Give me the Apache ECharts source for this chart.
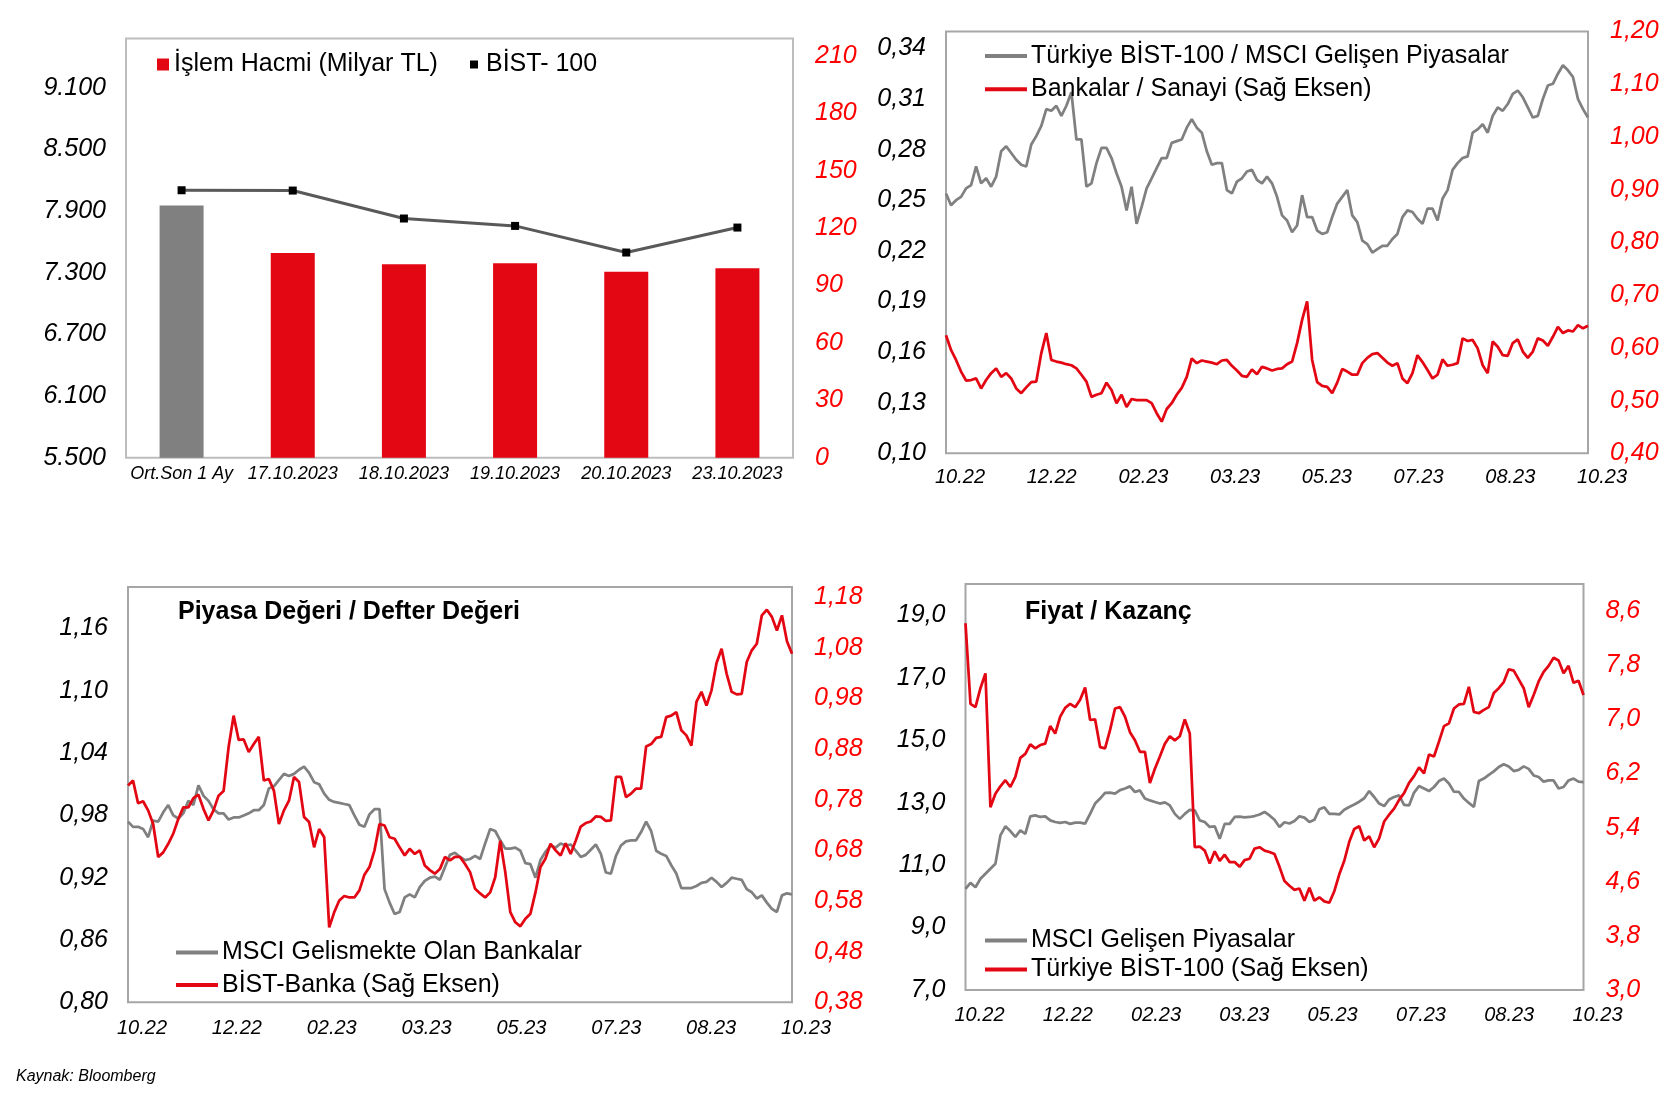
<!DOCTYPE html>
<html>
<head>
<meta charset="utf-8">
<script src="https://cdn.jsdelivr.net/npm/echarts@6/dist/echarts.min.js"></script>
<style>
  html, body { margin: 0; padding: 0; background: #fff; }
  #chart { width: 1675px; height: 1093px; }
</style>
</head>
<body>
<div id="chart"></div>
<script>
// --- data ---
const volCats = ['Ort.Son 1 Ay', '17.10.2023', '18.10.2023', '19.10.2023', '20.10.2023', '23.10.2023'];
const volume = [131.7, 107.0, 101.1, 101.6, 97.2, 99.0];
const bist100 = [8103, 8100, 7828, 7756, 7497, 7740];
const volLeftTicks = [5500, 6100, 6700, 7300, 7900, 8500, 9100];
const volRightTicks = [0, 30, 60, 90, 120, 150, 180, 210];

const dateLabels = ['10.22', '12.22', '02.23', '03.23', '05.23', '07.23', '08.23', '10.23'];

// Türkiye BİST-100 / MSCI Gelişen Piyasalar
const relBist = [0.254,0.247,0.250,0.252,0.257,0.259,0.270,0.260,0.263,0.258,
  0.264,0.279,0.282,0.278,0.274,0.271,0.270,0.283,0.288,0.294,
  0.304,0.303,0.306,0.300,0.306,0.314,0.286,0.286,0.258,0.260,
  0.272,0.281,0.281,0.275,0.266,0.258,0.244,0.258,0.236,0.246,
  0.257,0.263,0.269,0.275,0.275,0.284,0.285,0.286,0.293,0.298,
  0.293,0.290,0.279,0.271,0.272,0.272,0.256,0.254,0.261,0.263,
  0.267,0.268,0.262,0.260,0.264,0.260,0.252,0.241,0.238,0.231,
  0.235,0.253,0.240,0.240,0.232,0.230,0.231,0.240,0.248,0.252,
  0.256,0.241,0.237,0.226,0.224,0.219,0.221,0.223,0.223,0.227,
  0.230,0.240,0.244,0.243,0.239,0.236,0.245,0.245,0.238,0.251,
  0.256,0.268,0.272,0.275,0.276,0.290,0.292,0.295,0.290,0.300,
  0.305,0.303,0.307,0.313,0.315,0.311,0.305,0.299,0.300,0.310,
  0.318,0.319,0.325,0.330,0.327,0.323,0.310,0.304,0.299];
// Bankalar / Sanayi (Sağ Eksen)
const bankInd = [0.624,0.596,0.577,0.555,0.538,0.539,0.542,0.523,0.539,0.552,
  0.561,0.545,0.552,0.542,0.523,0.514,0.525,0.535,0.536,0.590,
  0.628,0.577,0.574,0.572,0.569,0.567,0.561,0.549,0.536,0.507,
  0.511,0.514,0.534,0.520,0.495,0.511,0.488,0.503,0.501,0.501,
  0.501,0.495,0.476,0.460,0.484,0.495,0.511,0.524,0.545,0.580,
  0.571,0.576,0.574,0.572,0.569,0.576,0.577,0.566,0.557,0.547,
  0.545,0.559,0.550,0.564,0.561,0.557,0.560,0.561,0.569,0.574,
  0.609,0.653,0.688,0.577,0.535,0.528,0.526,0.514,0.534,0.560,
  0.555,0.549,0.549,0.571,0.581,0.588,0.590,0.581,0.572,0.566,
  0.571,0.542,0.533,0.552,0.586,0.573,0.558,0.542,0.549,0.578,
  0.566,0.568,0.571,0.618,0.613,0.615,0.599,0.567,0.552,0.612,
  0.602,0.586,0.585,0.609,0.616,0.593,0.581,0.593,0.618,0.614,
  0.604,0.621,0.640,0.628,0.633,0.631,0.643,0.637,0.642];
const relLeftTicks = [0.10, 0.13, 0.16, 0.19, 0.22, 0.25, 0.28, 0.31, 0.34];
const relRightTicks = [0.40, 0.50, 0.60, 0.70, 0.80, 0.90, 1.00, 1.10, 1.20];

// PD/DD: MSCI Gelismekte Olan Bankalar
const pbMsci = [0.974,0.969,0.969,0.967,0.959,0.975,0.974,0.983,0.990,0.980,
  0.977,0.982,0.994,0.990,1.009,0.999,0.994,0.986,0.982,0.982,
  0.976,0.978,0.978,0.980,0.982,0.985,0.985,0.990,1.006,1.008,
  1.014,1.020,1.018,1.020,1.024,1.027,1.021,1.012,1.010,1.001,
  0.995,0.993,0.992,0.991,0.990,0.980,0.971,0.969,0.981,0.986,
  0.986,0.909,0.896,0.885,0.887,0.901,0.904,0.901,0.911,0.917,
  0.920,0.921,0.918,0.930,0.942,0.944,0.940,0.937,0.938,0.941,
  0.938,0.953,0.967,0.965,0.956,0.948,0.948,0.949,0.946,0.934,
  0.933,0.920,0.937,0.945,0.951,0.949,0.953,0.951,0.952,0.946,
  0.940,0.942,0.947,0.952,0.943,0.925,0.924,0.941,0.951,0.955,
  0.956,0.956,0.964,0.974,0.965,0.946,0.943,0.941,0.932,0.924,
  0.910,0.910,0.910,0.912,0.915,0.916,0.920,0.916,0.911,0.915,
  0.920,0.919,0.918,0.909,0.906,0.900,0.903,0.896,0.890,0.887,
  0.903,0.905,0.904];
// PD/DD: BİST-Banka (Sağ Eksen)
const pbBank = [0.808,0.818,0.773,0.777,0.759,0.732,0.667,0.676,0.693,0.713,
  0.742,0.765,0.765,0.783,0.790,0.762,0.739,0.759,0.788,0.797,
  0.884,0.946,0.898,0.899,0.874,0.890,0.904,0.818,0.821,0.798,
  0.732,0.759,0.778,0.825,0.815,0.746,0.736,0.686,0.722,0.706,
  0.528,0.558,0.581,0.590,0.587,0.587,0.601,0.632,0.647,0.680,
  0.732,0.729,0.706,0.703,0.686,0.670,0.683,0.673,0.680,0.650,
  0.641,0.634,0.643,0.667,0.660,0.667,0.667,0.653,0.637,0.604,
  0.595,0.587,0.597,0.627,0.699,0.637,0.558,0.538,0.530,0.545,
  0.555,0.597,0.647,0.664,0.693,0.680,0.670,0.694,0.673,0.699,
  0.727,0.734,0.737,0.747,0.746,0.738,0.739,0.825,0.825,0.785,
  0.792,0.802,0.802,0.885,0.890,0.902,0.904,0.943,0.946,0.953,
  0.917,0.907,0.887,0.973,0.993,0.966,0.996,1.050,1.078,1.029,
  0.993,0.988,0.989,1.052,1.075,1.088,1.144,1.155,1.141,1.114,
  1.144,1.093,1.068];
const pbLeftTicks = [0.80, 0.86, 0.92, 0.98, 1.04, 1.10, 1.16];
const pbRightTicks = [0.38, 0.48, 0.58, 0.68, 0.78, 0.88, 0.98, 1.08, 1.18];

// F/K: MSCI Gelişen Piyasalar
const peMsci = [10.24,10.43,10.29,10.56,10.72,10.88,11.04,11.95,12.24,12.09,
  11.90,12.11,12.00,12.56,12.59,12.54,12.56,12.43,12.38,12.35,
  12.38,12.32,12.36,12.36,12.33,12.64,12.97,13.13,13.31,13.32,
  13.29,13.40,13.45,13.52,13.34,13.39,13.13,13.07,13.02,12.97,
  13.01,12.91,12.64,12.48,12.64,12.77,12.75,12.43,12.38,12.22,
  12.24,11.84,12.32,12.32,12.54,12.55,12.53,12.54,12.57,12.62,
  12.70,12.59,12.45,12.22,12.37,12.33,12.41,12.56,12.52,12.38,
  12.45,12.79,12.85,12.64,12.64,12.62,12.77,12.86,12.94,13.03,
  13.14,13.37,13.18,12.97,12.89,13.10,13.18,13.23,12.93,12.91,
  13.32,13.53,13.45,13.37,13.50,13.69,13.77,13.61,13.35,13.34,
  13.13,12.99,12.86,13.69,13.77,13.89,14.00,14.14,14.23,14.16,
  14.01,14.05,14.16,14.08,13.87,13.82,13.67,13.71,13.71,13.45,
  13.50,13.71,13.77,13.67,13.66];
// F/K: Türkiye BİST-100 (Sağ Eksen)
const peBist = [8.42,7.23,7.18,7.46,7.68,5.70,5.90,6.01,6.10,6.00,
  6.15,6.43,6.49,6.63,6.57,6.62,6.64,6.90,6.79,7.04,
  7.17,7.23,7.18,7.29,7.47,6.99,7.00,6.59,6.57,6.84,
  7.16,7.18,7.04,6.81,6.69,6.52,6.52,6.06,6.27,6.45,
  6.64,6.75,6.69,6.75,7.00,6.79,5.11,5.12,5.06,4.87,
  5.05,4.91,5.00,4.89,4.89,4.82,4.92,4.94,5.09,5.11,
  5.06,5.04,5.01,4.82,4.61,4.54,4.48,4.50,4.32,4.51,
  4.32,4.37,4.31,4.29,4.46,4.71,4.91,5.19,5.38,5.42,
  5.21,5.27,5.11,5.24,5.49,5.59,5.68,5.81,5.91,6.06,
  6.16,6.29,6.20,6.48,6.45,6.67,6.90,6.94,7.16,7.22,
  7.23,7.48,7.11,7.09,7.14,7.18,7.39,7.46,7.55,7.74,
  7.72,7.59,7.46,7.18,7.36,7.56,7.70,7.79,7.91,7.87,
  7.68,7.79,7.54,7.57,7.36];
const peLeftTicks = [7, 9, 11, 13, 15, 17, 19];
const peRightTicks = [3.0, 3.8, 4.6, 5.4, 6.2, 7.0, 7.8, 8.6];

// --- styles ---
const FONT = "'Liberation Sans', Arial, sans-serif";
const RED = '#E30613';
const GRAY = '#808080';
const LABEL_RED = '#FF0000';

const comma = d => v => v.toFixed(d).replace('.', ',');
const thousands = v => String(Math.round(v)).replace(/\B(?=(\d{3})+(?!\d))/g, '.');

const yAxis = (grid, min, max, ticks, side, fmt) => ({
  type: 'value', gridIndex: grid, position: side, min: min, max: max,
  axisLine: { show: false }, axisTick: { show: false }, splitLine: { show: false },
  axisLabel: {
    customValues: ticks, formatter: fmt,
    color: side === 'right' ? LABEL_RED : '#000',
    fontSize: 25, fontStyle: 'italic', fontFamily: FONT,
    margin: side === 'right' ? 22 : 20
  }
});

const dateAxis = (grid, n, margin) => ({
  type: 'value', gridIndex: grid, min: 0, max: n - 1,
  axisLine: { show: false }, axisTick: { show: false }, splitLine: { show: false },
  axisLabel: {
    customValues: dateLabels.map((_, i) => (i * (n - 1)) / 7),
    formatter: v => dateLabels[Math.round(v * 7 / (n - 1))],
    color: '#000', fontSize: 20, fontStyle: 'italic', fontFamily: FONT,
    margin: margin, padding: [0, 0, 0, 28]
  }
});

const lineSeries = (name, values, grid, yIdx, color) => ({
  name: name, type: 'line', xAxisIndex: grid, yAxisIndex: yIdx,
  data: values.map((v, i) => [i, v]),
  showSymbol: false, symbol: 'none', smooth: false,
  lineStyle: { color: color, width: 2.75 },
  itemStyle: { color: color }
});

const legendBox = (names, left, top, gap) => ({
  data: names, left: left, top: top, orient: 'vertical', padding: 0,
  itemGap: gap, itemWidth: 42, itemHeight: 4, icon: 'rect', selectedMode: false,
  textStyle: { fontSize: 25, fontFamily: FONT, color: '#000', padding: [0, 0, 0, -1] }
});

const gridBox = (left, top, right, bottom, color) => ({
  left: left, top: top, right: right, bottom: bottom, show: true,
  borderColor: color, borderWidth: 2, backgroundColor: 'transparent',
  containLabel: false, outerBoundsMode: 'none'
});

const n2 = relBist.length, n3 = pbMsci.length, n4 = peMsci.length;

const chart = echarts.init(document.getElementById('chart'), null, { renderer: 'canvas' });
chart.setOption({
  animation: false,
  backgroundColor: '#fff',
  textStyle: { fontFamily: FONT },
  grid: [
    gridBox(126, 38.5, 882, 635.3, '#BDBDBD'),
    gridBox(946, 31.5, 87, 639.7, '#A6A6A6'),
    gridBox(128, 587, 883, 90.7, '#A6A6A6'),
    gridBox(965.5, 584, 91.5, 103, '#A6A6A6')
  ],
  title: [
    { text: 'Piyasa Değeri / Defter Değeri', left: 178, top: 600, padding: 0,
      textStyle: { fontSize: 25, fontWeight: 'bold', fontFamily: FONT, color: '#000' } },
    { text: 'Fiyat / Kazanç', left: 1025, top: 600, padding: 0,
      textStyle: { fontSize: 25, fontWeight: 'bold', fontFamily: FONT, color: '#000' } },
    { text: 'Kaynak: Bloomberg', left: 16, top: 1069, padding: 0,
      textStyle: { fontSize: 16, fontWeight: 'normal', fontStyle: 'italic', fontFamily: FONT, color: '#000' } }
  ],
  legend: [
    { data: ['İşlem Hacmi (Milyar TL)'], left: 157, top: 52, padding: 0,
      itemWidth: 12, itemHeight: 12, icon: 'rect', selectedMode: false,
      textStyle: { fontSize: 25, fontFamily: FONT, color: '#000' } },
    { data: [{ name: 'BİST- 100', icon: 'rect', itemStyle: { color: '#000' } }], left: 470, top: 52, padding: 0,
      itemWidth: 8, itemHeight: 8, selectedMode: false,
      textStyle: { fontSize: 25, fontFamily: FONT, color: '#000', padding: [0, 0, 0, 3] } },
    legendBox(['Türkiye BİST-100 / MSCI Gelişen Piyasalar', 'Bankalar / Sanayi (Sağ Eksen)'], 985, 43.5, 8.3),
    legendBox(['MSCI Gelismekte Olan Bankalar', 'BİST-Banka (Sağ Eksen)'], 176, 940, 7.5),
    legendBox(['MSCI Gelişen Piyasalar', 'Türkiye BİST-100 (Sağ Eksen)'], 985, 928, 4)
  ],
  xAxis: [
    { type: 'category', gridIndex: 0, data: volCats, boundaryGap: true,
      axisLine: { show: false }, axisTick: { show: false },
      axisLabel: { interval: 0, color: '#000', fontSize: 18, fontStyle: 'italic', fontFamily: FONT, margin: 7 } },
    dateAxis(1, n2, 14),
    dateAxis(2, n3, 16),
    dateAxis(3, n4, 15)
  ],
  yAxis: [
    yAxis(0, 5500, 9580, volLeftTicks, 'left', thousands),
    yAxis(0, 0, 219, volRightTicks, 'right', v => String(Math.round(v))),
    yAxis(1, 0.10, 0.35, relLeftTicks, 'left', comma(2)),
    yAxis(1, 0.40, 1.20, relRightTicks, 'right', comma(2)),
    yAxis(2, 0.80, 1.20, pbLeftTicks, 'left', comma(2)),
    yAxis(2, 0.38, 1.20, pbRightTicks, 'right', comma(2)),
    yAxis(3, 7, 20, peLeftTicks, 'left', comma(1)),
    yAxis(3, 3, 9, peRightTicks, 'right', comma(1))
  ],
  series: [
    { name: 'İşlem Hacmi (Milyar TL)', type: 'bar', xAxisIndex: 0, yAxisIndex: 1, barWidth: 44,
      itemStyle: { color: RED },
      data: volume.map((v, i) => i === 0 ? { value: v, itemStyle: { color: GRAY } } : v) },
    { name: 'BİST- 100', type: 'line', xAxisIndex: 0, yAxisIndex: 0, data: bist100,
      symbol: 'rect', symbolSize: 8, showSymbol: true,
      lineStyle: { color: '#595959', width: 3 }, itemStyle: { color: '#000' } },
    lineSeries('Türkiye BİST-100 / MSCI Gelişen Piyasalar', relBist, 1, 2, GRAY),
    lineSeries('Bankalar / Sanayi (Sağ Eksen)', bankInd, 1, 3, RED),
    lineSeries('MSCI Gelismekte Olan Bankalar', pbMsci, 2, 4, GRAY),
    lineSeries('BİST-Banka (Sağ Eksen)', pbBank, 2, 5, RED),
    lineSeries('MSCI Gelişen Piyasalar', peMsci, 3, 6, GRAY),
    lineSeries('Türkiye BİST-100 (Sağ Eksen)', peBist, 3, 7, RED)
  ]
});
</script>
</body>
</html>
